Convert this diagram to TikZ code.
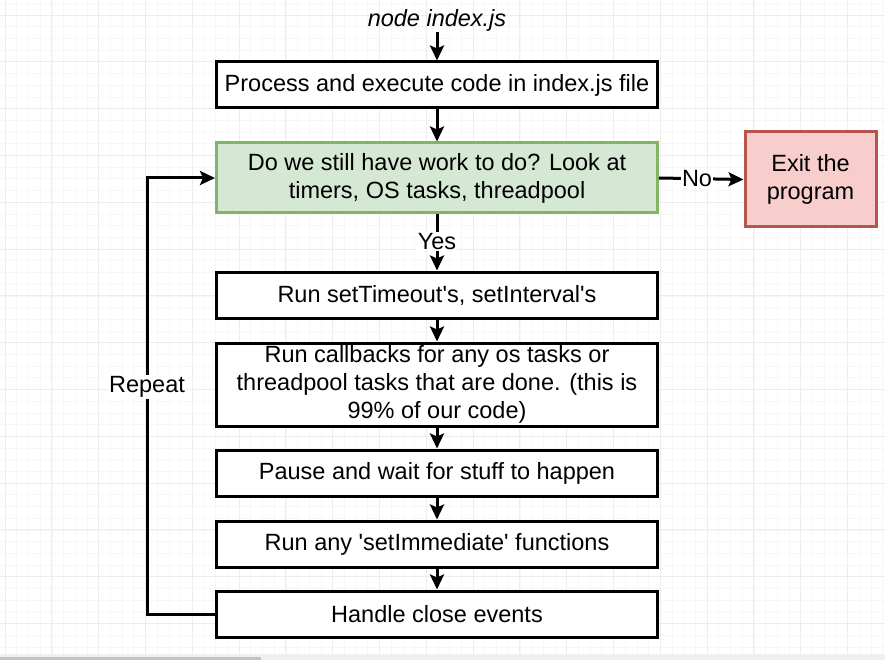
\documentclass[tikz,border=0pt]{standalone}
\usepackage{fontspec}
\setmainfont{Liberation Sans}[Ligatures=TeXOff]
\usetikzlibrary{arrows.meta}
\definecolor{gridminor}{HTML}{F7F7F7}
\definecolor{gridmajor}{HTML}{EDEDED}
\definecolor{greenfill}{HTML}{D5E8D4}
\definecolor{greenline}{HTML}{82B366}
\definecolor{redfill}{HTML}{F8CECC}
\definecolor{redline}{HTML}{B85450}
\definecolor{scrolltrack}{HTML}{F0F0F0}
\definecolor{scrollthumb}{HTML}{C4C4C4}
\begin{document}
\begin{tikzpicture}[x=1pt,y=-1pt,
  box/.style={draw=black, line width=3pt, fill=white, minimum width=441pt,
    minimum height=46pt, align=center, inner sep=0pt,
    font=\fontsize{23.5}{28}\selectfont},
  arr/.style={line width=3pt, -{Stealth[length=15pt,width=14pt,inset=3pt]}},
  lbl/.style={fill=white, inner sep=1pt, font=\fontsize{23.5}{28}\selectfont}]
\useasboundingbox (0,0) rectangle (885,660);
\fill[white] (0,0) rectangle (885,660);
% grid
\foreach \i in {-1,...,76} {
  \draw[gridminor, line width=0.6pt] ({5+11.7*\i},0) -- ({5+11.7*\i},660);
}
\foreach \i in {-2,...,56} {
  \draw[gridminor, line width=0.6pt] (0,{15+11.7*\i}) -- (885,{15+11.7*\i});
}
\foreach \i in {0,...,19} {
  \draw[gridmajor, line width=0.8pt] ({5+46.8*\i},0) -- ({5+46.8*\i},660);
}
\foreach \i in {0,...,14} {
  \draw[gridmajor, line width=0.8pt] (0,{15+46.8*\i}) -- (885,{15+46.8*\i});
}
% scrollbar
\fill[scrolltrack] (0,654) rectangle (885,660);
\fill[scrollthumb] (0,657) rectangle (261,660);

% nodes
\node[font=\fontsize{23.5}{28}\selectfont\itshape, inner sep=1pt] (start) at (437,20) {node index.js};
\node[box] (b1) at (437,85) {Process and execute code in index.js file};
\node[box, fill=greenfill, draw=greenline, minimum height=70pt] (check) at (437,178)
  {Do we still have work to do? Look at\\timers, OS tasks, threadpool};
\node[box, fill=redfill, draw=redline, minimum width=131pt, minimum height=95pt] (exit) at (810.5,179.5)
  {Exit the\\program};
\node[box] (b3) at (437,295) {Run setTimeout's, setInterval's};
\node[box, minimum height=83pt] (b4) at (437,384.5)
  {Run callbacks for any os tasks or\\threadpool tasks that are done. (this is\\99\% of our code)};
\node[box] (b5) at (437,473) {Pause and wait for stuff to happen};
\node[box] (b6) at (437,544) {Run any 'setImmediate' functions};
\node[box] (b7) at (437,614) {Handle close events};
\coordinate (loopcorner) at (147,614);

% connectors
\draw[arr] (start.south) -- (b1.north);
\draw[arr] (b1.south) -- (check.north);
\draw[arr] (check.east) -- node[lbl, pos=0.45] (nolbl) {No} (exit.west);
\draw[arr] (check.south) -- node[lbl, pos=0.48] (yeslbl) {Yes} (b3.north);
\draw[arr] (b3.south) -- (b4.north);
\draw[arr] (b4.south) -- (b5.north);
\draw[arr] (b5.south) -- (b6.north);
\draw[arr] (b6.south) -- (b7.north);
\draw[arr] (b7.west) -- (loopcorner) |- (check.west);
\node[lbl] (repeat) at (147,387) {Repeat};
\end{tikzpicture}
\end{document}
